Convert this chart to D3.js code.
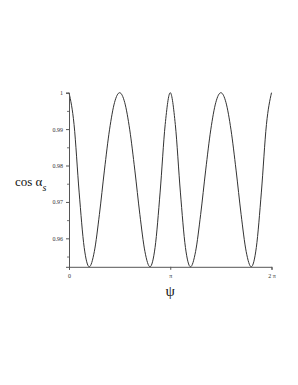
<!DOCTYPE html>
<html>
<head>
<meta charset="utf-8">
<script src="https://cdn.jsdelivr.net/npm/d3@7"></script>
<style>
  body { margin: 0; background: #fff; }
  svg { display: block; }
</style>
</head>
<body>
<svg id="chart" width="298" height="385"></svg>
<script>
// psi in units of pi, every 9 degrees
var psi = [0, 0.05, 0.1, 0.15, 0.2, 0.25, 0.3, 0.35, 0.4, 0.45,
  0.5, 0.55, 0.6, 0.65, 0.7, 0.75, 0.8, 0.85, 0.9, 0.95,
  1, 1.05, 1.1, 1.15, 1.2, 1.25, 1.3, 1.35, 1.4, 1.45,
  1.5, 1.55, 1.6, 1.65, 1.7, 1.75, 1.8, 1.85, 1.9, 1.95, 2];
var cosAlpha = [1, 0.99126, 0.9727, 0.95748, 0.95218, 0.95635, 0.96651, 0.97874, 0.98979, 0.99733,
  1, 0.99733, 0.98979, 0.97874, 0.96651, 0.95635, 0.95218, 0.95748, 0.9727, 0.99126,
  1, 0.99126, 0.9727, 0.95748, 0.95218, 0.95635, 0.96651, 0.97874, 0.98979, 0.99733,
  1, 0.99733, 0.98979, 0.97874, 0.96651, 0.95635, 0.95218, 0.95748, 0.9727, 0.99126, 1];

var yTicks = [0.96, 0.97, 0.98, 0.99, 1];
var yMinorTicks = [0.955, 0.965, 0.975, 0.985, 0.995];
var xTicks = [0, 1, 2];
var xTickLabels = ["0", "π", "2 π"];

var SERIF = "'Liberation Serif', 'DejaVu Serif', serif";

(function() {
  var svg = d3.select("#chart");
  var mLeft = 69, mRight = 271.5, mTop = 92.7, mBottom = 266.8;

  var x = d3.scaleLinear().domain([0, 2]).range([mLeft, mRight]);
  var y = d3.scaleLinear().domain([d3.min(cosAlpha), 1]).range([mBottom, mTop]);

  var data = psi.map(function(p, i) { return [p, cosAlpha[i]]; });

  var line = d3.line()
    .x(function(d) { return x(d[0]); })
    .y(function(d) { return y(d[1]); })
    .curve(d3.curveMonotoneX);

  svg.append("path")
    .datum(data)
    .attr("d", line)
    .attr("fill", "none")
    .attr("stroke", "#333")
    .attr("stroke-width", 1);

  // y axis
  var yAxis = d3.axisLeft(y).tickValues(yTicks).tickSize(3).tickPadding(3)
    .tickFormat(function(d) { return d === 1 ? "1" : d3.format(".2f")(d); });
  var gy = svg.append("g").attr("transform", "translate(" + mLeft + ",0)").call(yAxis);
  gy.select(".domain").attr("stroke", "#555");
  gy.selectAll(".tick line").attr("stroke", "#555");
  gy.selectAll("text").style("font-family", SERIF).attr("font-size", 6).attr("fill", "#333");

  svg.append("g").attr("transform", "translate(" + mLeft + ",0)")
    .call(d3.axisLeft(y).tickValues(yMinorTicks).tickSize(2).tickFormat(""))
    .call(function(g) { g.select(".domain").remove(); g.selectAll(".tick line").attr("stroke", "#777"); });

  // x axis
  var xAxis = d3.axisBottom(x).tickValues(xTicks).tickSize(3).tickPadding(4)
    .tickFormat(function(d, i) { return xTickLabels[i]; });
  var gx = svg.append("g").attr("transform", "translate(0," + mBottom + ")").call(xAxis);
  gx.select(".domain").attr("stroke", "#555");
  gx.selectAll(".tick line").attr("stroke", "#555");
  gx.selectAll("text").style("font-family", SERIF).attr("font-size", 6).attr("fill", "#333");

  // axis titles
  var yt = svg.append("text")
    .attr("x", 15).attr("y", 186)
    .style("font-family", SERIF)
    .attr("font-size", 13).attr("fill", "#111");
  yt.append("tspan").text("cos α");
  yt.append("tspan").attr("dy", 5).attr("font-size", 10).attr("font-style", "italic").text("s");

  svg.append("text")
    .attr("x", x(1)).attr("y", 296)
    .attr("text-anchor", "middle")
    .style("font-family", SERIF)
    .attr("font-size", 15).attr("fill", "#111")
    .text("ψ");
})();
</script>
</body>
</html>
